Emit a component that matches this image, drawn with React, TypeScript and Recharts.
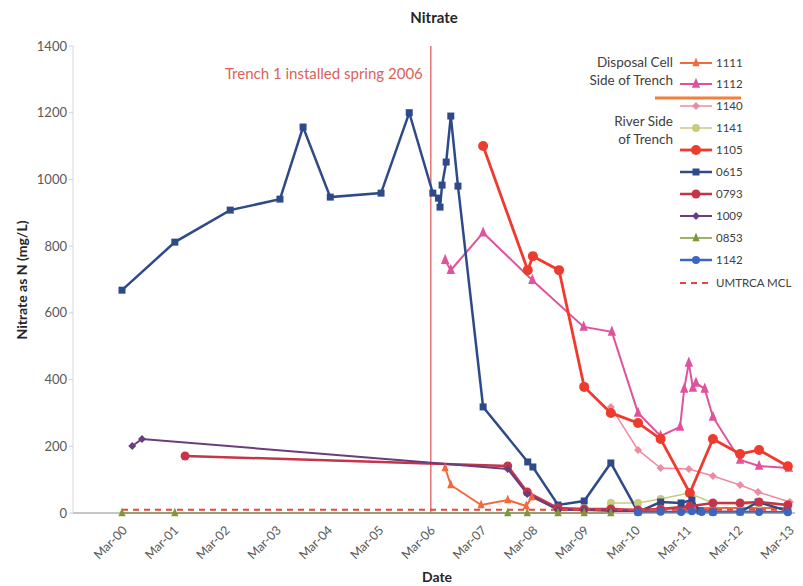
import { LineChart, Line, XAxis, YAxis, ReferenceLine } from 'recharts';

// x values are years after Mar-2000 (0 = Mar-00, 13 = Mar-13)
const tickYears = [0, 1, 2, 3, 4, 5, 6, 7, 8, 9, 10, 11, 12, 13];
const tickLabels = ['Mar-00', 'Mar-01', 'Mar-02', 'Mar-03', 'Mar-04', 'Mar-05', 'Mar-06', 'Mar-07', 'Mar-08', 'Mar-09', 'Mar-10', 'Mar-11', 'Mar-12', 'Mar-13'];
const yTicks = [0, 200, 400, 600, 800, 1000, 1200, 1400];
const trenchYear = 6.02;

const t1111 = [6.3, 6.41, 7.0, 7.52, 7.88, 7.99, 8.5, 9.0, 9.53, 10.06, 10.5, 11.07, 11.52, 12.05, 12.42, 12.98];
const v1111 = [135, 84, 24, 39, 21, 48, 12, 9, 9, 9, 12, 15, 15, 15, 15, 15];

const t1112 = [6.3, 6.41, 7.04, 8.0, 9.0, 9.55, 10.06, 10.5, 10.88, 10.96, 11.05, 11.13, 11.19, 11.36, 11.52, 12.05, 12.42, 13.0];
const v1112 = [758, 728, 840, 698, 558, 543, 300, 231, 258, 372, 450, 375, 390, 372, 288, 159, 141, 135];

const t1140 = [9.53, 10.06, 10.5, 11.05, 11.52, 12.05, 12.4, 13.02];
const v1140 = [318, 189, 135, 132, 111, 84, 63, 33];

const t1141 = [9.53, 10.06, 10.5, 11.05, 11.52, 12.05, 12.42, 12.98];
const v1141 = [30, 30, 42, 60, 30, 27, 27, 24];

const t1105 = [7.04, 7.91, 8.01, 8.52, 9.01, 9.53, 10.06, 10.5, 11.07, 11.52, 12.05, 12.42, 12.98];
const v1105 = [1100, 728, 770, 728, 378, 300, 270, 222, 60, 222, 177, 189, 140];

const t0615 = [0, 1.03, 2.11, 3.08, 3.53, 4.06, 5.05, 5.6, 6.06, 6.17, 6.2, 6.24, 6.32, 6.41, 6.55, 7.04, 7.91, 8.01, 8.5, 9.01, 9.53, 10.06, 10.5, 10.9, 11.11, 11.27, 11.52, 12.05, 12.4, 12.98];
const v0615 = [668, 812, 908, 941, 1157, 947, 959, 1200, 959, 944, 917, 983, 1052, 1190, 980, 318, 153, 138, 24, 36, 150, 3, 33, 30, 39, 6, 3, 3, 33, 6];

const t0793 = [1.23, 7.52, 7.9, 8.5, 9.01, 9.53, 10.06, 10.5, 11.07, 11.52, 12.05, 12.42, 12.98];
const v0793 = [171, 141, 63, 15, 12, 12, 9, 12, 20, 30, 30, 33, 24];

const t1009 = [0.2, 0.39, 7.52, 7.9, 8.5, 9.01, 9.53, 10.06];
const v1009 = [201, 222, 132, 57, 9, 9, 6, 6];

const t0853 = [0, 1.03, 7.52, 7.9, 8.5, 9.01, 9.53];
const v0853 = [0, 0, 0, 0, 0, 0, 0];

const t1142 = [10.06, 10.5, 10.9, 11.11, 11.3, 11.52, 12.05, 12.42, 12.98];
const v1142 = [2, 4, 3, 5, 3, 2, 4, 3, 2];

const tMcl = [0, 13];
const vMcl = [10, 10];

const pts = (ts: number[], vs: number[]) => ts.map((t, i) => ({ t, v: vs[i] }));

type Shape = 'tri' | 'circle' | 'square' | 'diamond' | 'none';

type Series = {
  name: string;
  data: { t: number; v: number }[];
  color: string;
  width: number;
  shape: Shape;
  size: number;
  dash?: string;
};

const series: Series[] = [
  { name: '1111', data: pts(t1111, v1111), color: '#F26A3C', width: 2, shape: 'tri', size: 6 },
  { name: '1112', data: pts(t1112, v1112), color: '#E0529C', width: 2, shape: 'tri', size: 7 },
  { name: '1140', data: pts(t1140, v1140), color: '#F08A9E', width: 1.5, shape: 'diamond', size: 4 },
  { name: '1141', data: pts(t1141, v1141), color: '#C9CB7C', width: 1.5, shape: 'circle', size: 4 },
  { name: '1105', data: pts(t1105, v1105), color: '#EE3B2E', width: 2.8, shape: 'circle', size: 5 },
  { name: '0615', data: pts(t0615, v0615), color: '#2F4A8A', width: 2.5, shape: 'square', size: 7 },
  { name: '0793', data: pts(t0793, v0793), color: '#C6344A', width: 2.5, shape: 'circle', size: 4.5 },
  { name: '1009', data: pts(t1009, v1009), color: '#6A3D7C', width: 2, shape: 'diamond', size: 4 },
  { name: '0853', data: pts(t0853, v0853), color: '#7C9A34', width: 1.5, shape: 'tri', size: 6 },
  { name: '1142', data: pts(t1142, v1142), color: '#3C66C4', width: 2.5, shape: 'circle', size: 4 },
  { name: 'UMTRCA MCL', data: pts(tMcl, vMcl), color: '#E8463C', width: 2, shape: 'none', size: 0, dash: '6 5' },
];

const FONT = 'Lato, "Open Sans", sans-serif';

function Marker({ shape, cx, cy, size, color }: { shape: Shape; cx: number; cy: number; size: number; color: string }) {
  if (shape === 'none' || cx == null || cy == null) return <g />;
  if (shape === 'circle') return <circle cx={cx} cy={cy} r={size} fill={color} />;
  if (shape === 'square') return <rect x={cx - size / 2} y={cy - size / 2} width={size} height={size} fill={color} />;
  if (shape === 'diamond') {
    return <polygon points={`${cx},${cy - size} ${cx + size},${cy} ${cx},${cy + size} ${cx - size},${cy}`} fill={color} />;
  }
  const h = size * 0.9;
  return <polygon points={`${cx},${cy - h} ${cx + size * 0.6},${cy + h * 0.6} ${cx - size * 0.6},${cy + h * 0.6}`} fill={color} />;
}

const dotFor = (s: Series) => (p: any) =>
  <Marker key={`${s.name}-${p.index}`} shape={s.shape} cx={p.cx} cy={p.cy} size={s.size} color={s.color} />;

function XTick({ x, y, payload }: any) {
  const i = tickYears.indexOf(payload.value);
  return (
    <text x={x + 6} y={y + 10} transform={`rotate(-45 ${x + 6} ${y + 10})`} textAnchor="end" fontSize={12.5} fill="#595959" fontFamily={FONT}>
      {tickLabels[i]}
    </text>
  );
}

function TrenchLabel({ viewBox }: any) {
  return (
    <text x={viewBox.x - 8} y={viewBox.y + 33} textAnchor="end" fontSize={15} fill="#D9625C" fontFamily={FONT}>
      Trench 1 installed spring 2006
    </text>
  );
}

export default function App() {
  const legendX = 680;
  const legendY = [63, 84, 106, 128, 150, 172, 194, 216, 238, 260, 283];
  return (
    <div style={{ position: 'absolute', left: 0, top: 0, width: 803, height: 586, background: '#fff' }}>
      <LineChart width={803} height={586} margin={{ top: 46, right: 8, bottom: 23, left: 13 }}>
        <XAxis
          dataKey="t"
          type="number"
          domain={[-0.955, 13.12]}
          ticks={tickYears}
          tick={<XTick />}
          tickLine={false}
          axisLine={{ stroke: '#8c8c8c' }}
          height={50}
          allowDataOverflow
        />
        <YAxis
          type="number"
          domain={[0, 1400]}
          ticks={yTicks}
          width={60}
          tick={{ fontSize: 13, fill: '#595959', fontFamily: FONT }}
          tickLine={{ stroke: '#d0d0d0' }}
          tickSize={4}
          axisLine={{ stroke: '#d9d9d9' }}
        />
        <ReferenceLine x={trenchYear} stroke="#E57373" strokeWidth={1.5} label={<TrenchLabel />} />
        {series.map((s) => (
          <Line
            key={s.name}
            data={s.data}
            dataKey="v"
            name={s.name}
            stroke={s.color}
            strokeWidth={s.width}
            strokeDasharray={s.dash}
            dot={s.shape === 'none' ? false : dotFor(s)}
            activeDot={false}
            isAnimationActive={false}
          />
        ))}
      </LineChart>
      <svg width={803} height={586} style={{ position: 'absolute', left: 0, top: 0, pointerEvents: 'none' }} fontFamily={FONT}>
        <text x={434} y={23} textAnchor="middle" fontSize={15} fontWeight="bold" fill="#262626">Nitrate</text>
        <text x={437} y={582} textAnchor="middle" fontSize={14} fontWeight="bold" fill="#262626">Date</text>
        <text transform="translate(27 280) rotate(-90)" textAnchor="middle" fontSize={14} fontWeight="bold" fill="#262626">Nitrate as N (mg/L)</text>

        <text x={673} y={67} textAnchor="end" fontSize={13.5} fill="#404040">Disposal Cell</text>
        <text x={673} y={85} textAnchor="end" fontSize={13.5} fill="#404040">Side of Trench</text>
        <line x1={655} x2={741} y1={98} y2={98} stroke="#F0803C" strokeWidth={3} />
        <text x={673} y={126} textAnchor="end" fontSize={13.5} fill="#404040">River Side</text>
        <text x={673} y={144} textAnchor="end" fontSize={13.5} fill="#404040">of Trench</text>

        {series.map((s, i) => (
          <g key={s.name}>
            <line x1={legendX} x2={legendX + 32} y1={legendY[i]} y2={legendY[i]} stroke={s.color} strokeWidth={s.width} strokeDasharray={s.dash} />
            <Marker shape={s.shape} cx={legendX + 16} cy={legendY[i]} size={s.size} color={s.color} />
            <text x={legendX + 36} y={legendY[i] + 4} fontSize={11.5} fill="#404040">{s.name}</text>
          </g>
        ))}
      </svg>
    </div>
  );
}
